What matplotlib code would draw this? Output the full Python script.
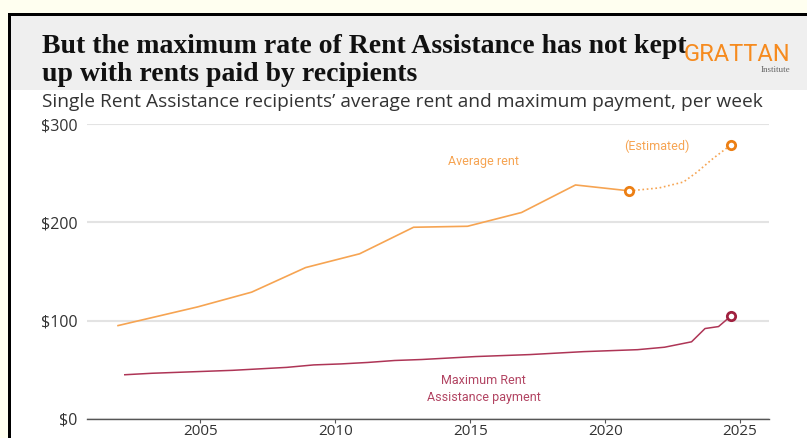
import matplotlib.pyplot as plt
from matplotlib.patches import Rectangle

# average rent, survey points (per week)
rent_years = [2001.95, 2004.9, 2006.9, 2008.9, 2010.9, 2012.9, 2014.9, 2016.9, 2018.9, 2020.9]
rent_values = [95, 114, 129, 154, 168, 195, 196, 210, 238, 232]

# estimated rent after last survey
est_years = [2020.9, 2022.0, 2022.9, 2023.4, 2024.0, 2024.67]
est_values = [232, 235, 241, 251, 265, 279]

# maximum rent assistance payment, single (per week)
cra_years = [2002.2, 2003.2, 2004.2, 2005.2, 2006.2, 2007.2, 2008.2, 2009.2, 2010.2,
             2011.2, 2012.2, 2013.2, 2014.2, 2015.2, 2016.2, 2017.2, 2018.2, 2019.2,
             2020.2, 2021.2, 2022.2, 2023.2, 2023.7, 2024.2, 2024.67]
cra_values = [45, 46.5, 47.5, 48.5, 49.5, 51, 52.5, 55, 56,
              57.5, 59.5, 60.5, 62, 63.5, 64.5, 65.5, 67, 68.5,
              69.5, 70.5, 73, 78.5, 92, 94, 105]

yticks = [0, 100, 200, 300]
ytick_labels = ['$0', '$100', '$200', '$300']
xticks = [2005, 2010, 2015, 2020, 2025]

ORANGE = '#F6A452'
ORANGE_DK = '#EC7F14'
RED = '#AE3556'
RED_DK = '#A0213F'
RED_TXT = '#B24462'

W, H = 807, 438
fig = plt.figure(figsize=(W / 100, H / 100), dpi=100, facecolor='#FFFFF0')

def fx(px):
    return px / W

def fy(py):
    return 1 - py / H

# frame: black border, white panel, grey header
fig.patches.append(Rectangle((fx(8), 0), 1, fy(13), transform=fig.transFigure,
                             facecolor='black', edgecolor='none', zorder=-10))
fig.patches.append(Rectangle((fx(11), 0), 1, fy(16), transform=fig.transFigure,
                             facecolor='white', edgecolor='none', zorder=-9))
fig.patches.append(Rectangle((fx(11), fy(90)), 1, fy(16) - fy(90), transform=fig.transFigure,
                             facecolor='#EFEFEF', edgecolor='none', zorder=-8))

fig.text(fx(42), fy(53), 'But the maximum rate of Rent Assistance has not kept',
         fontsize=20, fontweight='bold', family='Liberation Serif', color='#111111',
         va='baseline', ha='left')
fig.text(fx(42), fy(81), 'up with rents paid by recipients',
         fontsize=20, fontweight='bold', family='Liberation Serif', color='#111111',
         va='baseline', ha='left')

fig.text(fx(790), fy(61), 'GRATTAN', fontsize=17, color='#F68B1F',
         family='Roboto', ha='right', va='baseline')
fig.text(fx(790), fy(72), 'Institute', fontsize=6.5, color='#666666',
         family='Liberation Serif', ha='right', va='baseline')

fig.text(fx(42), fy(102), 'Single Rent Assistance recipients\u2019 average rent and maximum payment, per week',
         fontsize=13.8, family='Open Sans', color='#333333', ha='left', va='center')

ax = fig.add_axes([fx(87), fy(419), fx(769) - fx(87), fy(124) - fy(419)])
ax.set_facecolor('none')

ax.plot(rent_years, rent_values, color=ORANGE, lw=1.2, zorder=3)
ax.plot(est_years, est_values, color=ORANGE, lw=1.2, ls=(0, (1, 1.6)), zorder=3)
ax.plot([rent_years[-1], est_years[-1]], [rent_values[-1], est_values[-1]], ls='none',
        marker='o', ms=6, mfc='white', mec=ORANGE_DK, mew=2, zorder=4, clip_on=False)

ax.plot(cra_years, cra_values, color=RED, lw=1.1, zorder=3)
ax.plot([cra_years[-1]], [cra_values[-1]], ls='none', marker='o', ms=6, mfc='white',
        mec=RED_DK, mew=2, zorder=4, clip_on=False)

ax.text(2015.5, 262, 'Average rent', color=ORANGE, fontsize=9, family='Roboto',
        ha='center', va='center')
ax.text(2021.9, 277, '(Estimated)', color=ORANGE, fontsize=9, family='Roboto',
        ha='center', va='center')
ax.text(2015.5, 31, 'Maximum Rent\nAssistance payment', color=RED_TXT, fontsize=9,
        family='Roboto', ha='center', va='center', linespacing=1.4)

ax.set_xlim(2000.8, 2026.07)
ax.set_ylim(0, 300)
ax.set_yticks(yticks)
ax.set_yticklabels(ytick_labels)
ax.set_xticks(xticks)
for s in ['top', 'right', 'left']:
    ax.spines[s].set_visible(False)
ax.spines['bottom'].set_color('#555555')
ax.spines['bottom'].set_linewidth(1)
ax.grid(axis='y', color='#E3E3E3', lw=1.5)
ax.set_axisbelow(True)
ax.tick_params(axis='y', length=0, pad=7, labelsize=11.5, labelcolor='#333333')
ax.tick_params(axis='x', length=3, color='#555555', pad=0.5, labelsize=11, labelcolor='#333333')
for lab in ax.get_xticklabels() + ax.get_yticklabels():
    lab.set_family('Open Sans')

fig.savefig('out.png', dpi=100, facecolor=fig.get_facecolor())
